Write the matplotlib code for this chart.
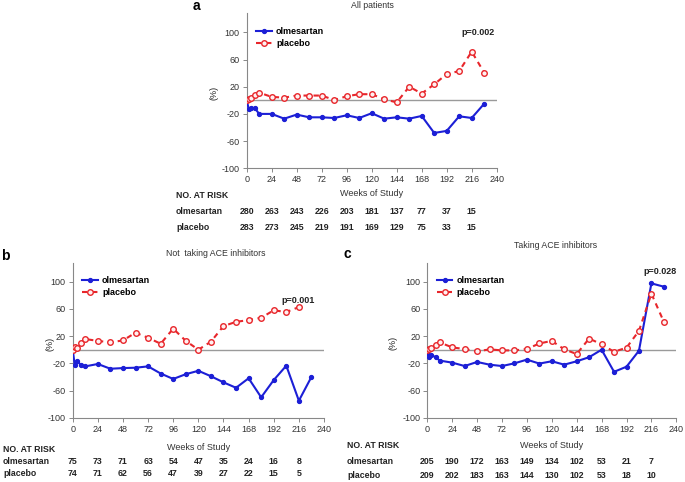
import numpy as np
import matplotlib
matplotlib.use("Agg")
import matplotlib.pyplot as plt
from matplotlib.transforms import blended_transform_factory

plt.rcParams['font.family'] = ['Liberation Sans', 'DejaVu Sans']
plt.rcParams['axes.unicode_minus'] = False

# ---- data ----
weeks = [0, 2, 4, 8, 12, 24, 36, 48, 60, 72, 84, 96, 108, 120, 132, 144, 156,
         168, 180, 192, 204, 216, 228]
risk_weeks = [0, 24, 48, 72, 96, 120, 144, 168, 192, 216]

# a: all patients
olm_a = [0, -13, -11, -12, -20, -20, -27, -21, -25, -25, -26, -22, -26, -19,
         -27, -25, -27, -23, -48, -45, -23.5, -26, -5]
pla_a = [0, 1.7, 2.7, 8, 11.3, 5, 4, 7, 7, 7, 0.5, 6, 9, 9, 1.5, -3, 20, 10,
         23.5, 38.7, 43, 71.6, 40.7]
risk_olm_a = [280, 263, 243, 226, 203, 181, 137, 77, 37, 15]
risk_pla_a = [283, 273, 245, 219, 191, 169, 129, 75, 33, 15]

# b: not taking ACE inhibitors
olm_b = [0, -23, -16, -23, -24.5, -21, -28, -27, -26.5, -24.5, -35, -43, -36,
         -31, -39, -48, -56, -42, -70, -44.6, -23.5, -75, -40]
pla_b = [0, 3.4, 3, 10, 15.7, 13, 10.8, 13.7, 25, 17.6, 8.8, 31, 13, 0, 11.8,
         34.8, 41, 43.6, 47, 58, 55.4, 62.7]
risk_olm_b = [75, 73, 71, 63, 54, 47, 35, 24, 16, 8]
risk_pla_b = [74, 71, 62, 56, 47, 39, 27, 22, 15, 5]

# c: taking ACE inhibitors
olm_c = [-5, -10, -8, -11, -16, -19, -24, -18, -22, -24, -20, -14.6, -20.4,
         -17, -22, -17, -11, 0, -32.5, -25, -1.5, 97.6, 92.7]
pla_c = [0, 1.2, 2.4, 7.3, 10.7, 3.4, 1, -2.4, 0.5, -1, -1, 1, 9.2, 13, 0.5,
         -6.3, 16.5, 7.8, -3, 3, 27.7, 82.5, 41]
risk_olm_c = [205, 190, 172, 163, 149, 134, 102, 53, 21, 7]
risk_pla_c = [209, 202, 183, 163, 144, 130, 102, 53, 18, 10]

BLUE = '#1c1fd6'
RED = '#e8262b'

W, H = 685, 482
fig = plt.figure(figsize=(6.85, 4.82), dpi=100)


def px(x0, y_top, w, h):
    return [x0 / W, 1 - (y_top + h) / H, w / W, h / H]


def fy(y):
    return 1 - y / H


def panel(rect, letter, letter_xy, title, title_xy, olm, pla, pla_weeks,
          ptxt, pxy, r_olm, r_pla, lab_x, rows_y, xlab_y, ylab_xy):
    ax = fig.add_axes(rect)
    ax.axhline(0, color='#9a9a9a', lw=1.0, zorder=1)
    ax.plot(weeks[:len(olm)], olm, color=BLUE, lw=1.5, marker='o', ms=2.8,
            mfc=BLUE, mec=BLUE, label='olmesartan', zorder=3)
    ax.plot(pla_weeks, pla, color=RED, lw=1.5, ls=(0, (2.6, 2.2)), marker='o',
            ms=4.0, mfc='#fff0f0', mec=RED, mew=1.0, label='placebo', zorder=3)
    ax.set_xlim(0, 240)
    ax.set_ylim(-100, 128)
    ax.set_xticks(range(0, 241, 24))
    ax.set_yticks([-100, -60, -20, 20, 60, 100])
    for s in ['top', 'right']:
        ax.spines[s].set_visible(False)
    for s in ['left', 'bottom']:
        ax.spines[s].set_color('#888888')
        ax.spines[s].set_linewidth(0.8)
    ax.tick_params(labelsize=6.5, length=3, width=0.7, color='#888888',
                   labelcolor='#333333', pad=2)
    ax.legend(loc='upper left', bbox_to_anchor=(0.005, 0.965),
              frameon=False, handlelength=1.75, handletextpad=0.45,
              labelspacing=0.35, prop={'size': 6.5, 'weight': 'bold'})
    ax.text(pxy[0], pxy[1], ptxt, fontsize=6.5, fontweight='bold',
            ha='center', va='center', color='#222222')
    fig.text(ylab_xy[0] / W, fy(ylab_xy[1]), '(%)', rotation=90, fontsize=6.5,
             ha='center', va='center', color='#222222')
    fig.text(letter_xy[0] / W, fy(letter_xy[1]), letter, fontsize=10,
             fontweight='bold', ha='center', va='center')
    fig.text(title_xy[0] / W, fy(title_xy[1]), title, fontsize=6.3,
             ha='center', va='center', color='#333333')
    bb = ax.get_position()
    fig.text((bb.x0 + bb.x1) / 2, fy(xlab_y), 'Weeks of Study', fontsize=6.5,
             ha='center', va='center', color='#333333')
    tr = blended_transform_factory(ax.transData, fig.transFigure)
    for lab, yy in zip(['NO. AT RISK', 'olmesartan', 'placebo'], rows_y):
        fig.text(lab_x / W, fy(yy), lab, fontsize=6.3, fontweight='bold',
                 ha='left', va='center', color='#222222')
    for wk, a, b in zip(risk_weeks, r_olm, r_pla):
        ax.text(wk, fy(rows_y[1]), str(a), transform=tr, fontsize=6.3,
                fontweight='bold', ha='center', va='center', color='#222222')
        ax.text(wk, fy(rows_y[2]), str(b), transform=tr, fontsize=6.3,
                fontweight='bold', ha='center', va='center', color='#222222')
    return ax


panel(px(246.7, 13.3, 250, 155), 'a', (196, 6), 'All patients', (372, 5),
      olm_a, pla_a, weeks, 'p=0.002', (222, 100), risk_olm_a, risk_pla_a,
      176, (195, 211, 227), 193, (214, 93))

panel(px(72.7, 262.7, 251.3, 155), 'b', (5, 256), 'Not  taking ACE inhibitors',
      (216, 254), olm_b, pla_b, weeks[:len(pla_b)], 'p=0.001', (215, 73),
      risk_olm_b, risk_pla_b, 3, (449, 461, 474), 447, (50, 344))

panel(px(427.3, 262.7, 249, 155), 'c', (347, 254), 'Taking ACE inhibitors',
      (556, 246), olm_c, pla_c, weeks, 'p=0.028', (224, 115),
      risk_olm_c, risk_pla_c, 347, (446, 461, 475), 446, (393, 343))

fig.savefig('out.png', dpi=100)
